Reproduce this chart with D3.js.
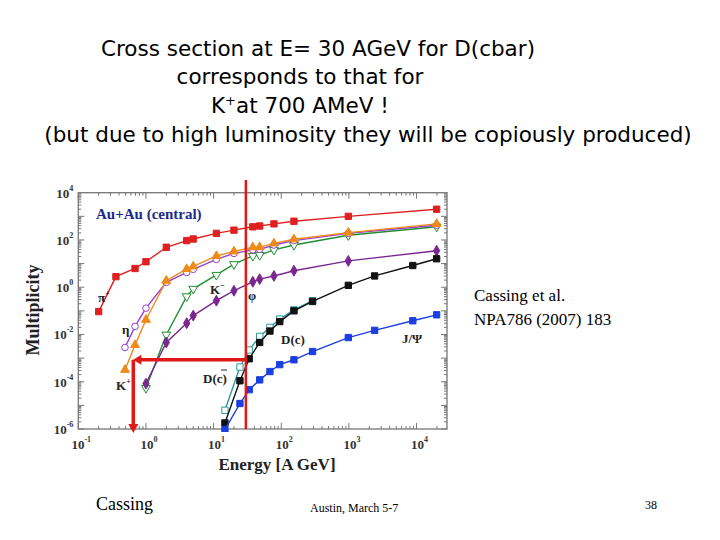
<!DOCTYPE html><html><head><meta charset="utf-8">
<script src="https://d3js.org/d3.v7.min.js"></script>
<style>body{margin:0;background:#fff}svg{display:block}</style></head><body>
<svg id="c" width="720" height="540"></svg>
<script>
const energies = [0.2,0.36,0.69,1,2,4,5,11,20,38,48,78,154,980,19800];
const piPlus = [0.093,2.8,6.2,12,49,94,110,190,260,360,390,480,620,1000,2000];
const eKp = [0.49,0.69,1,2,4,5,11,20,38,48,78,154,980,19800];
const kPlus = [3.2e-4,3.6e-3,0.042,1.9,5.9,7.6,21,33,49,50,72,107,205,480];
const eta = [2.8e-3,0.022,0.13,1.6,4.2,5.7,15,27,38,40,61,94,190,420];
const eKm = [1,2,4,5,11,20,38,48,78,154,980,19800];
const kMinus = [5.4e-5,9.8e-3,0.41,0.85,3.3,9.4,21,23,38,61,158,363];
const phi = [8.3e-5,4.6e-3,0.03,0.063,0.27,0.71,1.7,2.2,3,5,13,35];
const eD = [14.7,24.5,33.6,48,68,95,154,290,980,2400,8800,19800];
const dC = [1.8e-6,1.1e-4,9.4e-4,4.6e-3,0.014,0.035,0.1,0.25,1.2,3,8.3,16];
const eDbar = [14.7,24.5,33.6,48,68,95,154,290];
const dCbar = [6.2e-6,4.2e-4,2.2e-3,8.3e-3,0.02,0.045,0.11,0.27];
const jpsi = [9.5e-7,1.2e-5,4.6e-5,1.2e-4,2.7e-4,5.3e-4,8.5e-4,1.9e-3,7.4e-3,0.015,0.038,0.068];
const yTickExp = [4,2,0,-2,-4,-6];
const xTickExp = [-1,0,1,2,3,4];

const svg = d3.select("#c");
const x = d3.scaleLog().domain([0.1, Math.pow(10,4.45)]).range([78.3,447]);
const y = d3.scaleLog().domain([1e-6,1e4]).range([429,192.7]);
const L=78.3,R=447,T=192.7,B=429;

const tf = "'DejaVu Sans', sans-serif";
[["Cross section at E= 30 AGeV for D(cbar)",318,56],["corresponds to that for",300,84],["(but due to high luminosity they will be copiously produced)",368,142]].forEach(d=>{
 svg.append("text").attr("x",d[1]).attr("y",d[2]).attr("text-anchor","middle").attr("font-family",tf).attr("font-size",21.5).text(d[0]);});
const t3=svg.append("text").attr("x",300).attr("y",113).attr("text-anchor","middle").attr("font-family",tf).attr("font-size",21.5);
t3.append("tspan").text("K");t3.append("tspan").attr("font-size",13).attr("dy",-8).text("+");t3.append("tspan").attr("dy",8).text("at 700 AMeV !");

svg.append("rect").attr("x",L).attr("y",T).attr("width",R-L).attr("height",B-T).attr("fill","none").attr("stroke","#777").attr("stroke-width",1.3);
const g = svg.append("g").attr("stroke","#777");
for(let e=-1;e<=4;e++){for(let m=1;m<10;m++){const v=m*Math.pow(10,e);if(v>x.domain()[1])continue;const xx=x(v),len=m===1?6:3;
 g.append("line").attr("x1",xx).attr("x2",xx).attr("y1",B).attr("y2",B-len);g.append("line").attr("x1",xx).attr("x2",xx).attr("y1",T).attr("y2",T+len);}}
for(let e=-6;e<4;e++){for(let m=1;m<10;m++){const yy=y(m*Math.pow(10,e)),len=m===1?6:3;
 g.append("line").attr("x1",L).attr("x2",L+len).attr("y1",yy).attr("y2",yy);g.append("line").attr("x1",R).attr("x2",R-len).attr("y1",yy).attr("y2",yy);}}
const sf="'Liberation Serif', serif";
yTickExp.forEach(e=>{const t=svg.append("text").attr("x",L-5).attr("y",y(Math.pow(10,e))+5).attr("text-anchor","end").attr("font-family",sf).attr("font-weight","bold").attr("font-size",13).attr("fill","#333");
 t.append("tspan").text("10");t.append("tspan").attr("font-size",8).attr("dy",-7).text(e);});
xTickExp.forEach(e=>{const t=svg.append("text").attr("x",x(Math.pow(10,e))+3).attr("y",B+20).attr("text-anchor","middle").attr("font-family",sf).attr("font-weight","bold").attr("font-size",13).attr("fill","#333");
 t.append("tspan").text("10");t.append("tspan").attr("font-size",8).attr("dy",-7).text(e);});
svg.append("text").attr("x",277).attr("y",470).attr("text-anchor","middle").attr("font-family",sf).attr("font-weight","bold").attr("font-size",17).attr("fill","#222").text("Energy [A GeV]");
svg.append("text").attr("transform","translate(39,310) rotate(-90)").attr("text-anchor","middle").attr("font-family",sf).attr("font-weight","bold").attr("font-size",18).attr("fill","#222").text("Multiplicity");

svg.append("clipPath").attr("id","pc").append("rect").attr("x",L).attr("y",T).attr("width",R-L).attr("height",B-T+3);
const pg=svg.append("g").attr("clip-path","url(#pc)");
const line=d3.line().x(d=>x(d[0])).y(d=>y(d[1]));
function series(xs,ys,col,sym,fill,down){
 const pts=xs.map((v,i)=>[v,ys[i]]);
 pg.append("path").attr("d",line(pts)).attr("fill","none").attr("stroke",col).attr("stroke-width",1.4);
 const s=d3.symbol().type(sym).size(sym===d3.symbolSquare?40:34);
 pg.selectAll(null).data(pts).join("path").attr("transform",d=>`translate(${x(d[0])},${y(d[1])})${down?" rotate(180)":""}`)
  .attr("d",s).attr("fill",fill?col:"#fff").attr("stroke",col).attr("stroke-width",1);
}
series(energies,piPlus,"#e02020",d3.symbolSquare,true);
series(eKm,kMinus,"#1f8f30",d3.symbolTriangle,false,true);
series(eKp,eta,"#9a3fd0",d3.symbolCircle,false);
series(eKp,kPlus,"#f08a18",d3.symbolTriangle,true);
series(eKm,phi,"#7a2890",d3.symbolDiamond,true);
series(eDbar,dCbar,"#2a9a9a",d3.symbolSquare,false);
series(eD,dC,"#111",d3.symbolSquare,true);
series(eD,jpsi,"#1a3ee0",d3.symbolSquare,true);

svg.append("text").attr("x",96).attr("y",219).attr("font-family",sf).attr("font-weight","bold").attr("font-size",15).attr("fill","#1c2a8c").text("Au+Au (central)");
function lab(tx,xx,yy,sup){const t=svg.append("text").attr("x",xx).attr("y",yy).attr("font-family",sf).attr("font-weight","bold").attr("font-size",13).attr("fill","#222");t.append("tspan").text(tx);if(sup)t.append("tspan").attr("font-size",8).attr("dy",-6).text(sup);}
lab("π",98,302,"+");lab("η",122,334);lab("K",116,390,"+");lab("K",210,294,"−");lab("φ",248,300);lab("D(c)",281,344);lab("D(c)",203,383);lab("J/Ψ",402,343);
svg.append("line").attr("x1",221).attr("x2",227).attr("y1",370).attr("y2",370).attr("stroke","#222").attr("stroke-width",1);

const cE=30,cM=8.5e-4,kE=0.65;
const red="#e01818";
svg.append("line").attr("x1",x(cE)).attr("x2",x(cE)).attr("y1",180).attr("y2",B).attr("stroke",red).attr("stroke-width",2.5);
svg.append("line").attr("x1",x(cE)).attr("x2",x(kE)+6).attr("y1",y(cM)).attr("y2",y(cM)).attr("stroke",red).attr("stroke-width",3.5);
svg.append("path").attr("d",`M${x(kE)},${y(cM)} l8,-5 l0,10 z`).attr("fill",red);
svg.append("line").attr("x1",x(kE)).attr("x2",x(kE)).attr("y1",y(cM)).attr("y2",B-4).attr("stroke",red).attr("stroke-width",3.5);
svg.append("path").attr("d",`M${x(kE)},${B+4} l-5,-9 l10,0 z`).attr("fill",red);

svg.append("text").attr("x",474).attr("y",301).attr("font-family",sf).attr("font-size",17).text("Cassing et al.");
svg.append("text").attr("x",474).attr("y",325).attr("font-family",sf).attr("font-size",17).text("NPA786 (2007) 183");
svg.append("text").attr("x",96).attr("y",510).attr("font-family",sf).attr("font-size",18).text("Cassing");
svg.append("text").attr("x",310).attr("y",512).attr("font-family",sf).attr("font-size",12).text("Austin, March 5-7");
svg.append("text").attr("x",645).attr("y",509).attr("font-family",sf).attr("font-size",12).text("38");
</script></body></html>
